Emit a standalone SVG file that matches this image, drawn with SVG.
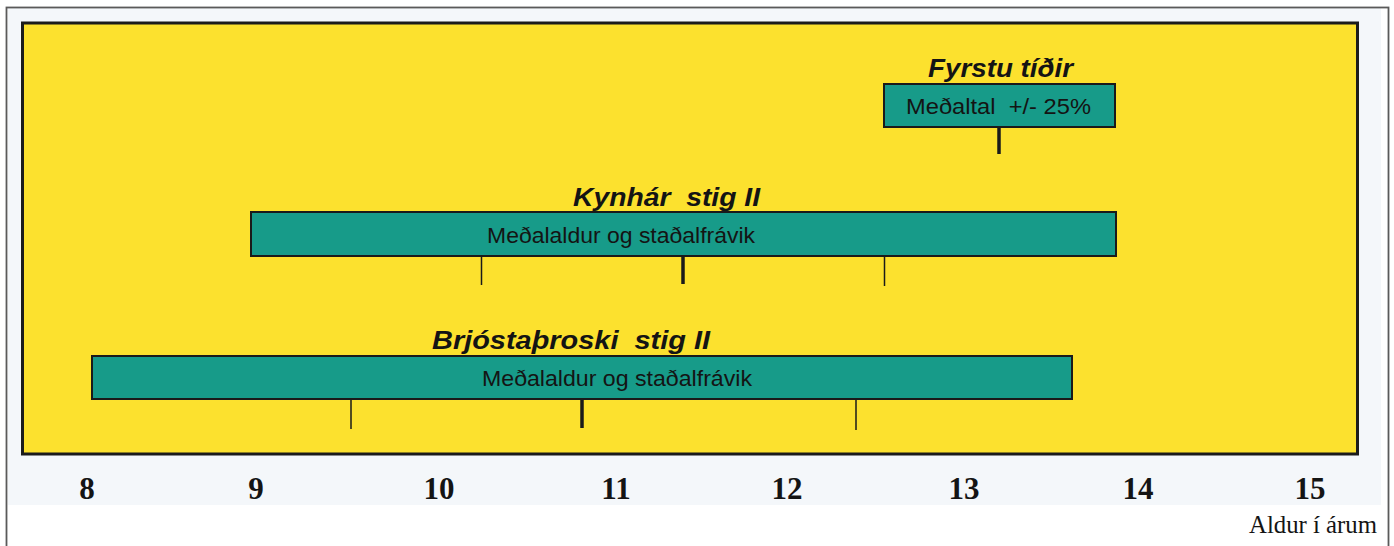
<svg xmlns="http://www.w3.org/2000/svg" width="1394" height="546" viewBox="0 0 1394 546">
<style>
.title{font-family:"Liberation Sans",Arial,sans-serif;font-weight:bold;font-style:italic;font-size:26px;fill:#141414}
.inner{font-family:"Liberation Sans",Arial,sans-serif;font-size:21.5px;fill:#141414}
.num{font-family:"Liberation Serif","Times New Roman",serif;font-weight:bold;font-size:31px;fill:#141414;text-anchor:middle}
.unit{font-family:"Liberation Serif","Times New Roman",serif;font-size:26px;fill:#141414;text-anchor:end}
.bar{fill:#179b89;stroke:#1a1a1a;stroke-width:2}
.tk{stroke:#1a1a1a;stroke-width:1.5}
.tkb{stroke:#1a1a1a;stroke-width:3.5}
</style>
<rect x="0" y="0" width="1394" height="546" fill="#ffffff"/>
<rect x="8" y="8" width="1373" height="497" fill="#f4f7fa"/>
<rect x="6.5" y="7.5" width="1382" height="545" fill="none" stroke="#5a5a5a" stroke-width="1.8"/>
<rect id="plot" x="22.5" y="23" width="1335" height="431" fill="#fce12e" stroke="#1b1b1b" stroke-width="3"/>

<g id="fyrstu">
<text class="title" x="928" y="77" textLength="145" lengthAdjust="spacingAndGlyphs">Fyrstu tíðir</text>
<rect class="bar" x="884" y="84" width="231" height="43"/>
<text class="inner" x="906" y="114" textLength="185" lengthAdjust="spacingAndGlyphs" xml:space="preserve">Meðaltal  +/- 25%</text>
</g>

<g id="kynhar">
<text class="title" x="573" y="206" textLength="187" lengthAdjust="spacingAndGlyphs" xml:space="preserve">Kynhár  stig II</text>
<rect class="bar" x="251" y="212" width="865" height="44"/>
<text class="inner" x="487" y="243" textLength="268" lengthAdjust="spacingAndGlyphs">Meðalaldur og staðalfrávik</text>
</g>

<g id="brjosta">
<text class="title" x="432" y="349" textLength="278" lengthAdjust="spacingAndGlyphs" xml:space="preserve">Brjóstaþroski  stig II</text>
<rect class="bar" x="92" y="356" width="980" height="43"/>
<text class="inner" x="482" y="386" textLength="270" lengthAdjust="spacingAndGlyphs">Meðalaldur og staðalfrávik</text>
</g>

<g id="connectors">
<line class="tkb" x1="999" y1="127" x2="999" y2="154"/>
<line class="tk" x1="481.5" y1="256" x2="481.5" y2="285"/>
<line class="tkb" x1="683" y1="256" x2="683" y2="284"/>
<line class="tk" x1="884.5" y1="256" x2="884.5" y2="286"/>
<line class="tk" x1="351" y1="399" x2="351" y2="429"/>
<line class="tkb" x1="582" y1="399" x2="582" y2="428"/>
<line class="tk" x1="856" y1="399" x2="856" y2="430"/>
</g>

<g id="axis">
<text class="num" x="87" y="499">8</text>
<text class="num" x="256" y="499">9</text>
<text class="num" x="439" y="499">10</text>
<text class="num" x="616" y="499">11</text>
<text class="num" x="787" y="499">12</text>
<text class="num" x="964" y="499">13</text>
<text class="num" x="1138" y="499">14</text>
<text class="num" x="1310" y="499">15</text>
<text class="unit" x="1377" y="533" textLength="128" lengthAdjust="spacingAndGlyphs">Aldur í árum</text>
</g>
</svg>
